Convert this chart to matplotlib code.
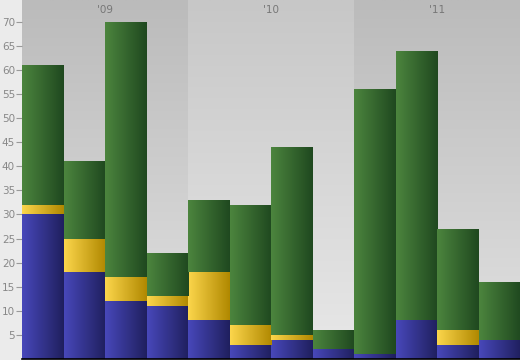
import numpy as np
import matplotlib
matplotlib.use("Agg")
import matplotlib.pyplot as plt
from matplotlib.colors import LinearSegmentedColormap

# data
groups = ["'09", "'10", "'11"]
blue = [30, 18, 12, 11, 8, 3, 4, 2, 1, 8, 3, 4]
yellow = [2, 7, 5, 2, 10, 4, 1, 0, 0, 0, 3, 0]
totals = [61, 41, 70, 22, 33, 32, 44, 6, 56, 64, 27, 16]
green = [t - b - y for t, b, y in zip(totals, blue, yellow)]
yticks = list(range(5, 75, 5))

YMAX = 74.5

fig = plt.figure(figsize=(5.2, 3.6), dpi=100, facecolor='#ebebeb')
ax = fig.add_axes([22/520, 1/360, 498/520, 359/360])

# banded background with vertical gradient
grad = np.linspace(0, 1, 256).reshape(-1, 1)
bg_dark = LinearSegmentedColormap.from_list('bgd', ['#e2e2e2', '#bbbbbb'])
bg_light = LinearSegmentedColormap.from_list('bgl', ['#e8e8e8', '#c7c7c7'])
for i, g in enumerate(groups):
    cm = bg_light if i % 2 else bg_dark
    ax.imshow(grad, cmap=cm, origin='lower', aspect='auto',
              extent=[i*4 - 0.5, i*4 + 3.5, 0, YMAX], zorder=0)
    ax.text(i*4 + 1.5, 72.4, g, ha='center', va='center', color='#777777',
            fontsize=7.5, zorder=5)

hgrad = np.linspace(0, 1, 256).reshape(1, -1)
cmaps = [
    LinearSegmentedColormap.from_list('b', ['#4848ba', '#1f1f5e']),
    LinearSegmentedColormap.from_list('y', ['#fcd64c', '#b08800']),
    LinearSegmentedColormap.from_list('g', ['#4c853e', '#1f481f']),
]

x = np.arange(len(blue))
bottoms = np.zeros(len(blue))
for vals, cm in zip([blue, yellow, green], cmaps):
    bars = ax.bar(x, vals, width=1.0, bottom=bottoms, color='none',
                  linewidth=0, zorder=2)
    for r in bars:
        if r.get_height() <= 0:
            continue
        im = ax.imshow(hgrad, cmap=cm, aspect='auto', zorder=2,
                       extent=[r.get_x(), r.get_x() + r.get_width(),
                               r.get_y(), r.get_y() + r.get_height()])
        im.set_clip_path(r)
    bottoms += np.array(vals)

ax.set_xlim(-0.5, 11.5)
ax.set_ylim(0, YMAX)
ax.set_xticks([])
ax.set_yticks(yticks)
ax.tick_params(axis='y', direction='out', length=4, width=0.8,
               color='#999999', labelcolor='#888888', labelsize=7.5, pad=1)
for s in ['top', 'right', 'left']:
    ax.spines[s].set_visible(False)
ax.spines['bottom'].set_color('black')
ax.spines['bottom'].set_linewidth(1.2)

fig.savefig('out.png', dpi=100, facecolor=fig.get_facecolor())
